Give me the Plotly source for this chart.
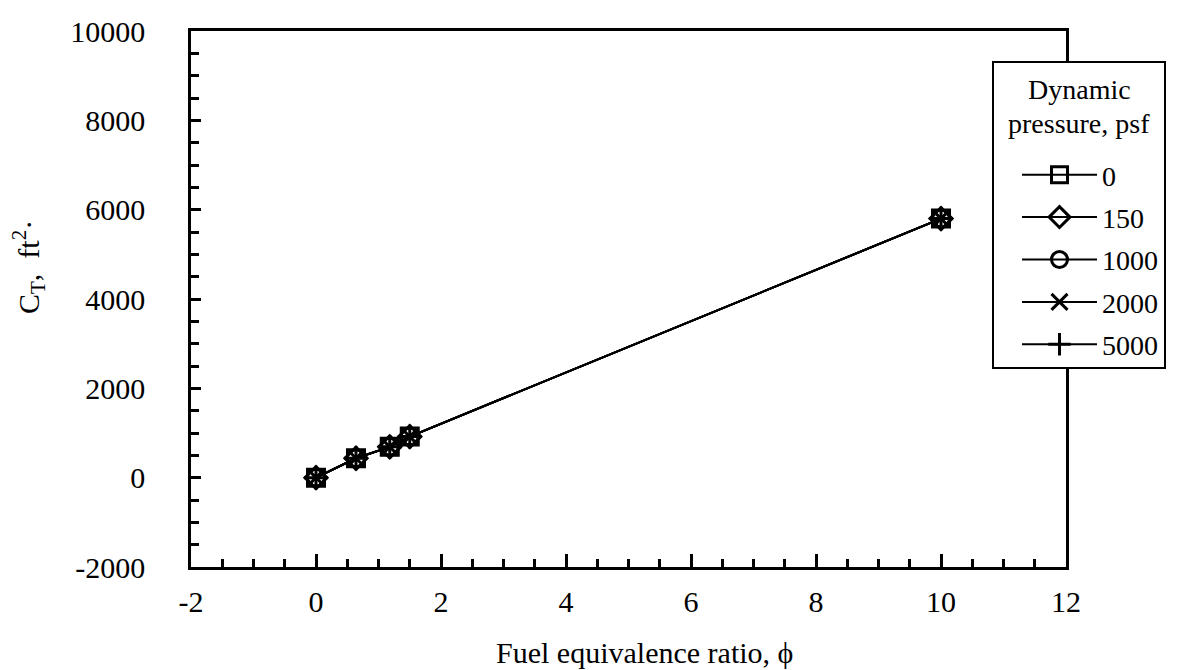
import plotly.graph_objects as go

# Data
phi = [0.0, 0.64, 1.18, 1.5, 10.0]
ct = [0, 435, 690, 920, 5800]
pressures = ["0", "150", "1000", "2000", "5000"]
symbols = ["square-open", "diamond-open", "circle-open", "x-thin-open", "cross-thin-open"]
x_ticks = [-2, 0, 2, 4, 6, 8, 10, 12]
y_ticks = [-2000, 0, 2000, 4000, 6000, 8000, 10000]

FONT = "Liberation Serif"
W, H = 1193, 670
OFF = 8  # page body margin offset
# plot frame in page pixels
FL, FT, FR, FB = 191, 31, 1066, 567
L, T = FL - OFF, FT - OFF
R, B = W - (FR - OFF), H - (FB - OFF)
PW, PH = W - L - R, H - T - B


def px(xp):
    return (xp - OFF - L) / PW


def py(yp):
    return (H - B - (yp - OFF)) / PH


fig = go.Figure()
for i, (p, s) in enumerate(zip(pressures, symbols)):
    fig.add_trace(go.Scatter(
        x=phi, y=ct, name=p, mode="lines+markers",
        legendgroup=f"g{i}",
        line=dict(color="black", width=2),
        marker=dict(symbol=s, size=17, color="black", line=dict(color="black", width=3)),
    ))

fig.update_layout(
    width=W, height=H,
    margin=dict(l=L, r=R, t=T, b=B, autoexpand=False),
    paper_bgcolor="white", plot_bgcolor="white",
    font=dict(family=FONT, size=28, color="black"),
    showlegend=True,
    legend=dict(
        x=px(1017), y=py(150), xanchor="left", yanchor="top",
        bgcolor="rgba(0,0,0,0)", borderwidth=0,
        font=dict(family=FONT, size=28, color="black"),
        tracegroupgap=3,
        itemwidth=75,
    ),
    shapes=[
        dict(type="rect", xref="paper", yref="paper", layer="above",
             x0=px(993), x1=px(1165), y0=py(368), y1=py(62),
             fillcolor="white", line=dict(color="black", width=2)),
    ],
    xaxis=dict(
        range=[-2, 12], tickvals=x_ticks, ticktext=[str(v) for v in x_ticks],
        showgrid=False, zeroline=False, automargin=False,
        showline=True, linecolor="black", linewidth=2.5, mirror=True,
        ticks="inside", ticklen=13, tickwidth=2.5, tickcolor="black",
        minor=dict(dtick=0.5, ticks="inside", ticklen=8, tickwidth=2.5, tickcolor="black", showgrid=False),
        tickfont=dict(family=FONT, size=30, color="black"),
        ticklabelstandoff=6,
    ),
    yaxis=dict(
        range=[-2000, 10000], tickvals=y_ticks, ticktext=[str(v) for v in y_ticks],
        showgrid=False, zeroline=False, automargin=False,
        showline=True, linecolor="black", linewidth=2.5, mirror=True,
        ticks="inside", ticklen=10, tickwidth=2.5, tickcolor="black",
        minor=dict(dtick=500, ticks="inside", ticklen=8, tickwidth=2.5, tickcolor="black", showgrid=False),
        tickfont=dict(family=FONT, size=30, color="black"),
        ticklabelstandoff=37,
    ),
    annotations=[
        dict(text="Fuel equivalence ratio, ϕ", xref="paper", yref="paper",
             x=px(644), y=py(652), xanchor="center", yanchor="middle",
             showarrow=False, font=dict(family=FONT, size=30, color="black")),
        dict(text="C<sub>T</sub>,&nbsp;&nbsp;ft<sup>2</sup>·", xref="paper", yref="paper",
             x=px(28), y=py(267), xanchor="center", yanchor="middle",
             textangle=-90, showarrow=False, font=dict(family=FONT, size=30, color="black")),
        dict(text="Dynamic", xref="paper", yref="paper",
             x=px(1079), y=py(90), xanchor="center", yanchor="middle",
             showarrow=False, font=dict(family=FONT, size=28, color="black")),
        dict(text="pressure, psf", xref="paper", yref="paper",
             x=px(1079), y=py(123), xanchor="center", yanchor="middle",
             showarrow=False, font=dict(family=FONT, size=28, color="black")),
    ],
)

fig.write_html("out.html")
